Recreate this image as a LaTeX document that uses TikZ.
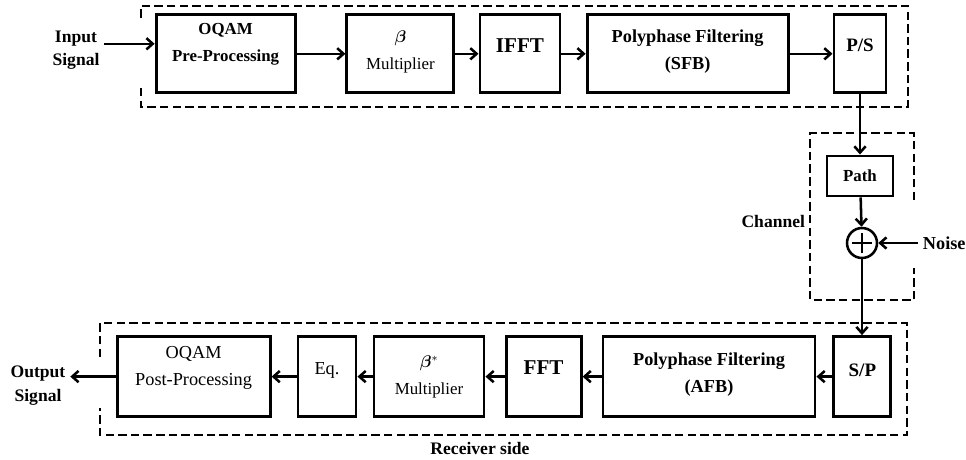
\documentclass[tikz,border=0pt]{standalone}
\usepackage{fontspec}
\usepackage{bm}
\setmainfont{Liberation Serif}
\usetikzlibrary{arrows.meta,positioning}

\begin{document}
\begin{tikzpicture}[>={Straight Barb[length=4.5pt,width=8pt]},
  box/.style={draw,line width=2.1pt,minimum height=1.95cm,align=center,
              font=\fontsize{12}{19}\selectfont},
  bf/.style={font=\fontsize{12}{19}\selectfont\bfseries},
  wide/.style={font=\fontsize{13}{19}\selectfont\bfseries},
  big/.style={font=\fontsize{15}{19}\selectfont\bfseries},
  lift/.style={text depth=#1},
  lbl/.style={align=center,font=\fontsize{12.5}{17}\selectfont\bfseries},
  frame/.style={line width=1.6pt,dash pattern=on 6pt off 3pt},
  flow/.style={->,line width=1.8pt}]
  \useasboundingbox (0,0) rectangle (24.15,11.475);
  % transmitter
  \node[box,bf,minimum width=3.475cm,lift=0.56cm] (pre) at (5.64,10.13) {OQAM\\Pre-Processing};
  \node[box,minimum width=2.675cm,lift=0.2cm]     (mul) at (10.01,10.13) {$\bm{\beta}$\\Multiplier};
  \node[box,big,minimum width=2.0cm,lift=0.42cm]  (ifft) at (13.0,10.13) {IFFT};
  \node[box,wide,minimum width=5.025cm,lift=0.22cm] (sfb) at (17.19,10.13) {Polyphase Filtering\\(SFB)};
  \node[box,minimum width=1.3cm,lift=0.41cm,font=\fontsize{13.5}{19}\selectfont\bfseries] (ps) at (21.5,10.13) {P/S};
  \node[lbl] (in) at (1.9,10.22) {Input\\Signal};
  \draw[flow] ([yshift=0.16cm]in.east) -- ([yshift=0.16cm]in.east -| pre.west);
  \draw[flow] (pre) -- (mul);
  \draw[flow] (mul) -- (ifft);
  \draw[flow] (ifft) -- (sfb);
  \draw[flow] (sfb) -- (ps);
  \draw[frame] (3.525,9.275) -- (3.525,8.8) -- (22.7,8.8) -- (22.7,11.325)
    -- (3.525,11.325) -- (3.525,10.975);
  % channel
  \node[box,bf,minimum width=1.65cm,minimum height=1.0cm] (path) at (21.5,7.075) {Path};
  \node[draw,circle,line width=1.8pt,minimum size=0.75cm] (sum) at (21.55,5.4) {};
  \draw[line width=1.8pt] ([yshift=-0.25cm]sum.center) -- ([yshift=0.25cm]sum.center)
    ([xshift=-0.25cm]sum.center) -- ([xshift=0.25cm]sum.center);
  \node[lbl,anchor=west,font=\fontsize{13}{17}\selectfont\bfseries] (noise) at (22.95,5.4) {Noise};
  \node[lbl,anchor=east] (chan) at (20.25,5.95) {Channel};
  \draw[flow] (ps) -- (path);
  \draw[flow] (path) -- (sum);
  \draw[flow] (noise) -- (sum);
  \draw[frame] (22.85,6.475) -- (22.85,8.15) -- (20.25,8.15) -- (20.25,3.975)
    -- (22.85,3.975) -- (22.85,4.775);
  % receiver
  \node[box,minimum width=1.425cm,minimum height=2.0cm,lift=0.33cm,font=\fontsize{13.5}{19}\selectfont\bfseries] (sp) at (21.56,2.06) {S/P};
  \node[box,wide,minimum width=5.3cm,minimum height=2.0cm,lift=0.2cm] (afb) at (17.725,2.06) {Polyphase Filtering\\(AFB)};
  \node[box,big,minimum width=1.875cm,minimum height=2.0cm,lift=0.47cm] (fft) at (13.59,2.06) {FFT};
  \node[box,minimum width=2.75cm,minimum height=2.0cm] (bmul) at (10.725,2.06) {$\bm{\beta}^{*}$\\Multiplier};
  \node[box,minimum width=1.45cm,minimum height=2.0cm,lift=0.42cm,font=\fontsize{13}{19}\selectfont] (eq) at (8.175,2.06) {Eq.};
  \node[box,minimum width=3.825cm,minimum height=2.0cm,lift=0.54cm,font=\fontsize{13}{19}\selectfont] (post) at (4.84,2.06) {OQAM\\Post-Processing};
  \node[lbl] (out) at (0.95,1.83) {Output\\Signal};
  \draw[flow] (sum) -- (sum |- sp.north);
  \draw[flow] (sp) -- (afb);
  \draw[flow] (afb) -- (fft);
  \draw[flow] (fft) -- (bmul);
  \draw[flow] (bmul) -- (eq);
  \draw[flow] (eq) -- (post);
  \draw[flow] (post.west) -- (post.west -| out.east);
  \draw[frame] (2.5,2.55) -- (2.5,3.4) -- (22.675,3.4) -- (22.675,0.6)
    -- (2.5,0.6) -- (2.5,1.275);
  \node[lbl] (rx) at (12.0,0.275) {Receiver side};
\end{tikzpicture}
\end{document}
